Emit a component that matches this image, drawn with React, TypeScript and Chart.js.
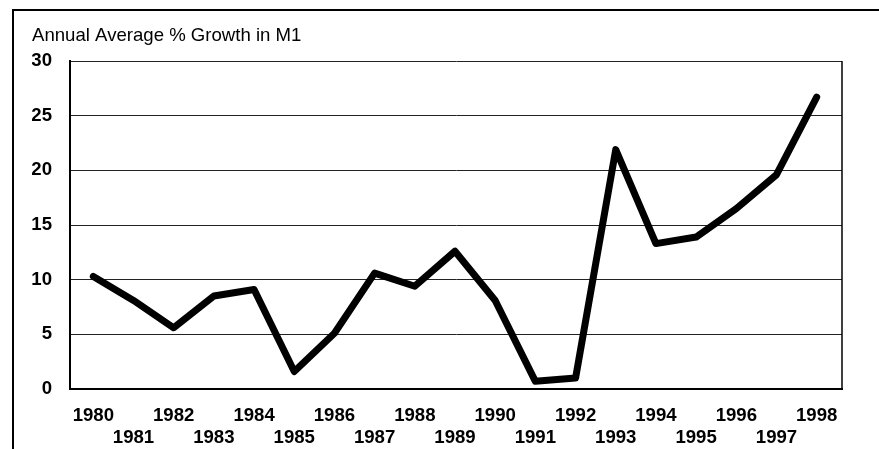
import React, { useEffect, useRef } from "react";
import { Chart, registerables } from "chart.js";

Chart.register(...registerables);

const TITLE = "Annual Average % Growth in M1";
const YEARS = [1980, 1981, 1982, 1983, 1984, 1985, 1986, 1987, 1988, 1989, 1990, 1991, 1992, 1993, 1994, 1995, 1996, 1997, 1998];
const GROWTH = [10.3, 8.1, 5.6, 8.5, 9.1, 1.6, 5.1, 10.6, 9.4, 12.6, 8.1, 0.7, 1.0, 21.9, 13.3, 13.9, 16.5, 19.6, 26.7];
const Y_TICKS = [0, 5, 10, 15, 20, 25, 30];

const FONT = "'Liberation Sans', Arial, Helvetica, sans-serif";

const framePlugin = {
  id: "frame",
  beforeDraw(chart: any) {
    const ctx = chart.ctx;
    ctx.save();
    ctx.fillStyle = "#ffffff";
    ctx.fillRect(0, 0, chart.width, chart.height);
    ctx.strokeStyle = "#000";
    ctx.lineWidth = 2;
    ctx.beginPath();
    ctx.moveTo(13, chart.height);
    ctx.lineTo(13, 10);
    ctx.lineTo(chart.width, 10);
    ctx.stroke();
    ctx.restore();
  },
  afterDatasetsDraw(chart: any) {
    const { ctx, chartArea } = chart;
    ctx.save();
    ctx.strokeStyle = "#000";
    ctx.lineWidth = 1.5;
    ctx.beginPath();
    ctx.moveTo(chartArea.right, chartArea.top);
    ctx.lineTo(chartArea.right, chartArea.bottom);
    ctx.stroke();
    ctx.restore();
  },
};

export default function App() {
  const ref = useRef<HTMLCanvasElement | null>(null);

  useEffect(() => {
    if (!ref.current) return;
    const chart = new Chart(ref.current, {
      type: "line",
      data: {
        datasets: [
          {
            data: YEARS.map((y, i) => ({ x: y, y: GROWTH[i] })),
            borderColor: "#000",
            borderWidth: 7,
            borderJoinStyle: "round",
            borderCapStyle: "round",
            pointRadius: 0,
            tension: 0,
            fill: false,
          },
        ],
      },
      options: {
        responsive: false,
        animation: false,
        layout: { padding: { left: 32, right: 37, top: 0, bottom: 0 } },
        plugins: {
          legend: { display: false },
          tooltip: { enabled: false },
          title: {
            display: true,
            text: TITLE,
            align: "start",
            color: "#000",
            font: { family: FONT, size: 18.6, weight: "normal", lineHeight: 1.2 },
            padding: { top: 24.5, bottom: 14.2 },
          },
        },
        scales: {
          x: {
            type: "linear",
            min: 1979.42,
            max: 1998.63,
            grid: { display: false, drawTicks: false },
            border: { display: true, color: "#000", width: 2 },
            afterBuildTicks: (scale: any) => {
              scale.ticks = YEARS.map((v) => ({ value: v }));
            },
            afterFit: (scale: any) => {
              scale.height = 60;
            },
            ticks: {
              autoSkip: false,
              maxRotation: 0,
              minRotation: 0,
              padding: 16,
              color: "#000",
              font: { family: FONT, size: 18.6, weight: "bold", lineHeight: 22 / 18.6 },
              callback: (v: any) => {
                const n = Math.round(Number(v));
                return n % 2 === 0 ? [String(n), ""] : ["", String(n)];
              },
            },
          },
          y: {
            min: 0,
            max: 30,
            afterBuildTicks: (scale: any) => {
              scale.ticks = Y_TICKS.map((v) => ({ value: v }));
            },
            afterFit: (scale: any) => {
              scale.width = 38;
            },
            grid: { color: "#222", lineWidth: 1, drawTicks: false },
            border: { display: true, color: "#000", width: 2 },
            ticks: {
              padding: 18,
              color: "#000",
              font: { family: FONT, size: 18.6, weight: "bold" },
            },
          },
        },
      },
      plugins: [framePlugin],
    });
    return () => chart.destroy();
  }, []);

  return (
    <div style={{ position: "absolute", left: 0, top: 0, width: 879, height: 449 }}>
      <canvas ref={ref} width={879} height={449} style={{ width: 879, height: 449, display: "block" }} />
    </div>
  );
}
